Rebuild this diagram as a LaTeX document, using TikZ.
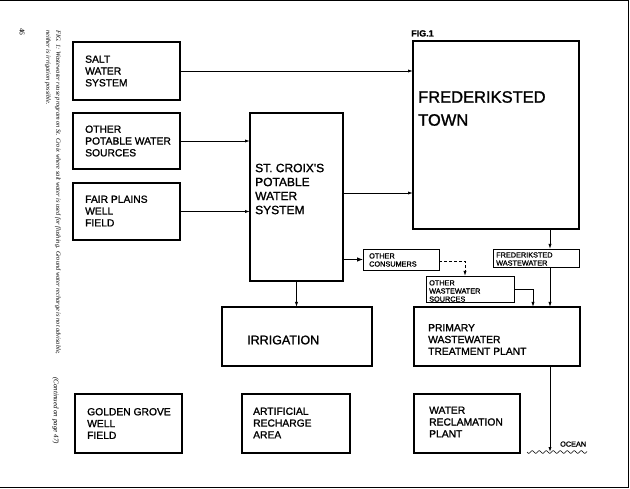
\documentclass[tikz,border=0pt]{standalone}
\usepackage{fontspec}
\setmainfont{Liberation Serif}
\newfontfamily\lab[FakeBold=1.3]{Liberation Sans}
\usetikzlibrary{arrows.meta,calc}
\begin{document}
\begin{tikzpicture}[x=1pt,y=-1pt,
 bigbox/.style={draw, line width=2.2pt, inner sep=0pt, outer sep=0pt, anchor=north west},
 smallbox/.style={draw, line width=0.9pt, inner sep=0pt, outer sep=0pt, anchor=north west},
 lbl/.style={font=\lab\fontsize{10.3}{11.8}\selectfont, align=left, anchor=west, inner sep=0pt},
 slbl/.style={font=\lab\fontsize{7.3}{8.1}\selectfont, align=left, anchor=west, inner sep=0pt},
 arr/.style={line width=0.8pt, -{Latex[length=5pt,width=3.2pt]}},
 captext/.style={rotate=-90, anchor=north west, inner sep=0pt, align=left},
]
\useasboundingbox (0,0) rectangle (630,489);
% page edges
\draw[line width=1pt] (0,1) -- (628,1) -- (628,487.5) -- (0,487.5);

% caption
\node[captext, font=\itshape\fontsize{6.4}{10}\selectfont] (caption) at (61,30)
 {FIG. 1: Wastewater reuse program on St. Croix where salt water is used for flushing. Ground water recharge is not advisable,\\neither is irrigation possible.};
\node[captext, font=\itshape\fontsize{7}{8}\selectfont] (cont) at (59,377) {(Continued on page 47)};
\node[rotate=-90, inner sep=0pt, font=\fontsize{7.5}{8}\selectfont] (pageno) at (22,32) {46};

% boxes
\node[bigbox, minimum width=107pt, minimum height=58pt] (salt) at (73,42) {};
\node[bigbox, minimum width=107pt, minimum height=56pt] (othpot) at (73,113) {};
\node[bigbox, minimum width=107pt, minimum height=57pt] (fair) at (73,183) {};
\node[bigbox, minimum width=93pt, minimum height=168pt] (stcroix) at (250,113) {};
\node[bigbox, minimum width=166pt, minimum height=188pt] (town) at (413,41) {};
\node[bigbox, minimum width=150pt, minimum height=59pt] (irr) at (222,307) {};
\node[bigbox, minimum width=166pt, minimum height=59pt] (primary) at (414,307) {};
\node[bigbox, minimum width=107pt, minimum height=59pt] (golden) at (75,394) {};
\node[bigbox, minimum width=108pt, minimum height=59pt] (artif) at (242,394) {};
\node[bigbox, minimum width=106pt, minimum height=59pt] (reclam) at (414,394) {};
\node[smallbox, minimum width=76pt, minimum height=21pt] (oc) at (363,249) {};
\node[smallbox, minimum width=86pt, minimum height=18pt] (fw) at (493,249) {};
\node[smallbox, minimum width=88pt, minimum height=26pt] (oww) at (426,276) {};

% texts
\node[font=\lab\bfseries\fontsize{9}{10}\selectfont, anchor=base west, inner sep=0pt] (fig) at (411,36.5) {FIG.1};
\node[lbl] (salt-t) at (85,71) {SALT\\WATER\\SYSTEM};
\node[lbl] (othpot-t) at (85,141) {OTHER\\POTABLE WATER\\SOURCES};
\node[lbl] (fair-t) at (85,211) {FAIR PLAINS\\WELL\\FIELD};
\node[lbl, font=\lab\fontsize{12}{14}\selectfont] (stcroix-t) at (255,189) {ST. CROIX'S\\POTABLE\\WATER\\SYSTEM};
\node[lbl, font=\lab\fontsize{16.5}{23}\selectfont] (town-t) at (418,108.5) {FREDERIKSTED\\TOWN};
\node[lbl, font=\lab\fontsize{12.5}{14}\selectfont] (irr-t) at (247,340) {IRRIGATION};
\node[lbl] (primary-t) at (428,339.5) {PRIMARY\\WASTEWATER\\TREATMENT PLANT};
\node[lbl] (golden-t) at (87,423.5) {GOLDEN GROVE\\WELL\\FIELD};
\node[lbl] (artif-t) at (253,423) {ARTIFICIAL\\RECHARGE\\AREA};
\node[lbl] (reclam-t) at (429,422) {WATER\\RECLAMATION\\PLANT};
\node[slbl] (oc-t) at (369,260) {OTHER\\CONSUMERS};
\node[slbl] (fw-t) at (496,259) {FREDERIKSTED\\WASTEWATER};
\node[slbl] (oww-t) at (429,291) {OTHER\\WASTEWATER\\SOURCES};
\node[slbl, anchor=base west] (ocean-t) at (560,446.6) {OCEAN};

% connectors
\draw[arr] (salt.east) -- (salt.east -| town.west);
\draw[arr] (othpot.east) -- (othpot.east -| stcroix.west);
\draw[arr] (fair.east) -- (fair.east -| stcroix.west);
\draw[arr] (stcroix.east |- 0,193) -- (town.west |- 0,193);
\draw[line width=0.8pt, -{Latex[length=6pt,width=4.5pt]}] (stcroix.east |- oc.west) -- (oc.west);
\draw[line width=0.8pt, dash pattern=on 3pt off 2pt, -{Latex[length=5pt,width=3.2pt]}] (oc.east |- 0,261) -| (oww.north -| 465,0);
\draw[arr] (town.south -| 550,0) -- (fw.north -| 550,0);
\draw[arr] (fw.south -| 550,0) -- (primary.north -| 550,0);
\draw[arr] (oww.east |- 0,289) -| (primary.north -| 533,0);
\draw[arr] (stcroix.south) -- (stcroix.south |- irr.north);
\coordinate (sea) at (550,452);
\draw[arr] (primary.south -| 550,0) -- (sea);
\draw[line width=0.6pt] plot[domain=527:587, samples=90, smooth] (\x,{452+1.3*sin((\x-527)*51.4)});
\end{tikzpicture}
\end{document}
